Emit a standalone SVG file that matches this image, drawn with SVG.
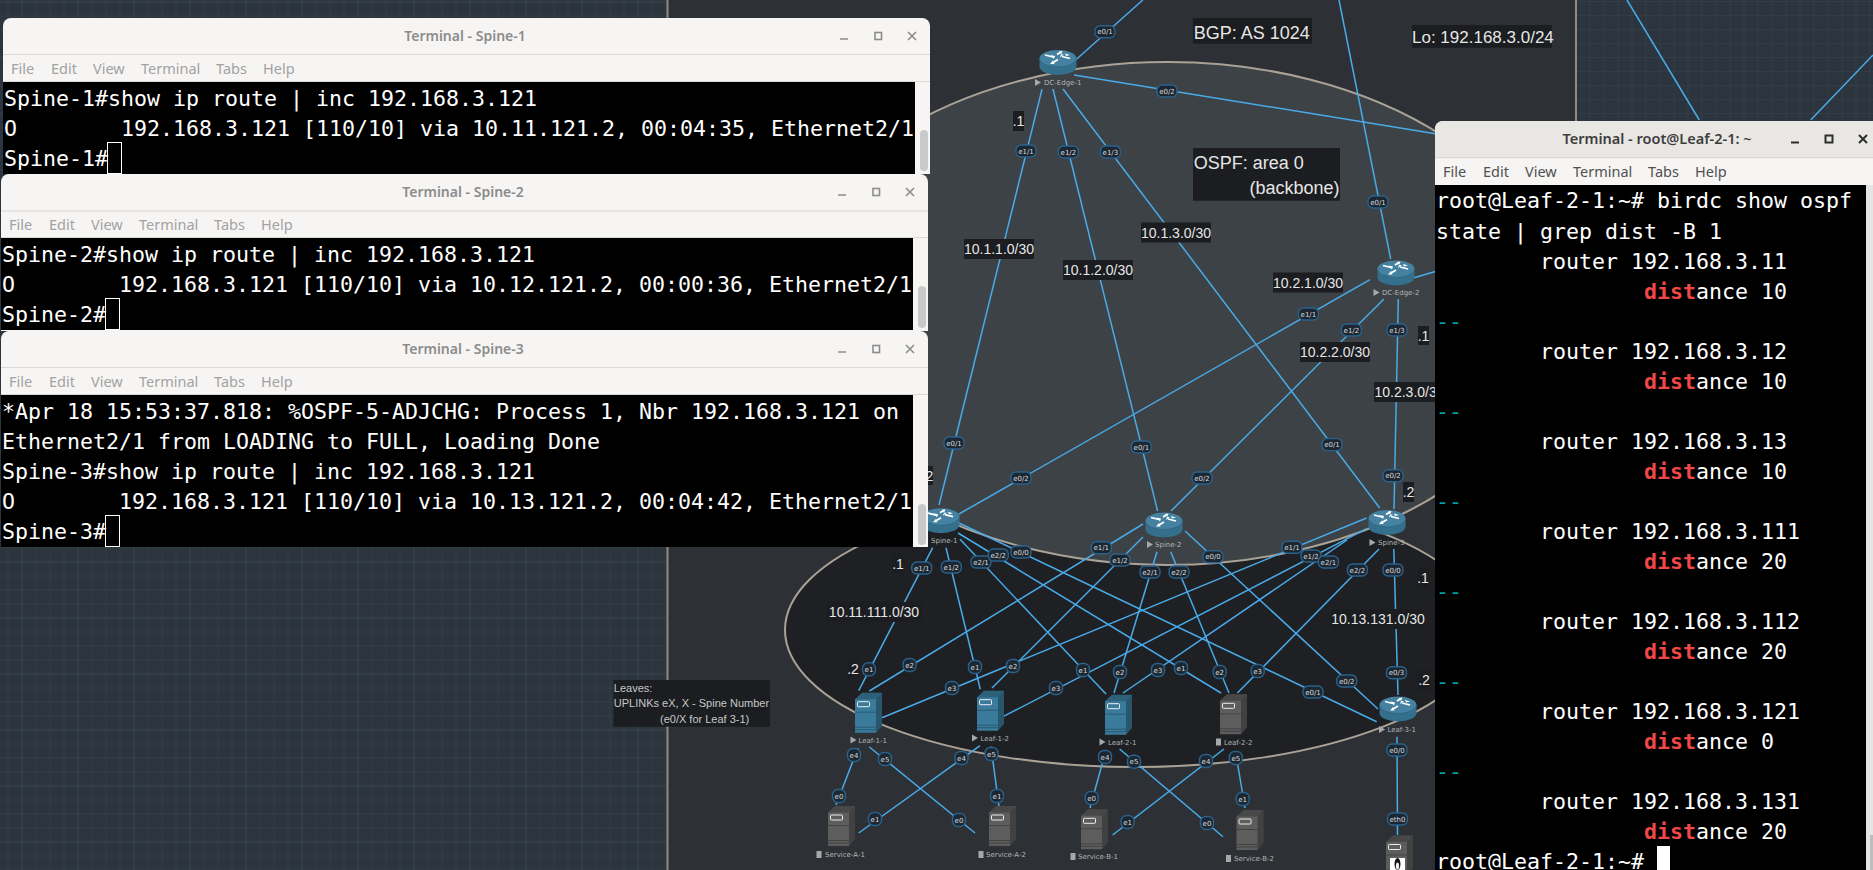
<svg xmlns="http://www.w3.org/2000/svg" width="1873" height="870" viewBox="0 0 1873 870">
<style>
text{font-family:"Liberation Sans",Arial,sans-serif}
.lk line{stroke:#49abea;stroke-width:1.5;fill:none}
.pw,.pn{fill:#1c2732;stroke:#2a628c;stroke-width:1.4}
.pt{font-family:"DejaVu Sans",sans-serif;font-size:7px;fill:#dadada;text-anchor:middle}
.nl{font-family:"DejaVu Sans",sans-serif;font-size:7px;fill:#b4b4b4}
.ic{fill:#a8a8a8}
.box{fill:#1b1d20}
.sn{font-size:14px;fill:#e6e6e6;text-anchor:middle}
.big{font-size:18px;fill:#e6e6e6}
.lo{font-size:17px;fill:#e6e6e6}
.note{font-size:11px;fill:#c8c8c8}
.blue{color:#3a7b9c}
.gray{color:#5d5d5d}
.tb{fill:#f6f5f4}
.sep{fill:#dad8d4}
.black{fill:#000}
.thumb{fill:#c9c9c9}
.tt{font-family:"Noto Sans",sans-serif;font-size:14px;font-weight:600;fill:#8c8c8c;text-anchor:middle}
.tta{font-family:"Noto Sans",sans-serif;font-size:14.5px;font-weight:600;fill:#3d3d3d;text-anchor:middle}
.mi{font-family:"Noto Sans",sans-serif;font-size:14.5px;fill:#a2a2a2}
.ma{font-family:"Noto Sans",sans-serif;font-size:14.5px;fill:#505050}
.t{font-family:"DejaVu Sans Mono",monospace;font-size:21.6px;fill:#fff;white-space:pre}
.red{fill:#f04848;font-weight:bold}
.cy{fill:#00a0a6}
.cur{fill:none;stroke:#fff;stroke-width:1}
.ctl{fill:none;stroke:#8c8c8c;stroke-width:1.6}
.cta{fill:none;stroke:#2e2e2e;stroke-width:2}
</style>
<defs>
<pattern id="gridL" x="7.5" y="1.5" width="14" height="14" patternUnits="userSpaceOnUse"><path d="M0 0H14M0 0V14" fill="none" stroke="#35444e" stroke-width="1"/></pattern>
<pattern id="gridLM" x="21.5" y="1.5" width="56" height="56" patternUnits="userSpaceOnUse"><path d="M0 0H56M0 0V56" fill="none" stroke="#3c4c56" stroke-width="1"/></pattern>
<pattern id="gridR" x="7.5" y="1" width="14" height="14" patternUnits="userSpaceOnUse"><path d="M0 0H14M0 0V14" fill="none" stroke="#35444e" stroke-width="1"/></pattern>
<rect id="pw" class="pw" x="-10" y="-6" width="20" height="12" rx="5"/>
<rect id="pn" class="pn" x="-6.5" y="-6.5" width="13" height="13" rx="5.5"/>
<g id="router">
<path d="M-18.5 -4V4A18.5 8.5 0 0 0 18.5 4V-4Z" fill="#346f8b"/>
<ellipse cx="0" cy="-4" rx="18.5" ry="8.5" fill="#4582a2"/>
<path d="M-18.5 -4A18.5 8.5 0 0 0 18.5 -4" fill="none" stroke="#2c5e78" stroke-width=".6"/>
<path d="M-13 -7.5L-5 -5.5M-1 -8L3 -10.5M4 -6L12 -4M0 -3L-5 0" fill="none" stroke="#fff" stroke-width="1.8"/>
<path d="M-4 -3.5L-3 -6.5L-7.5 -7.5ZM4.5 -11.5L1 -11L3 -8ZM3 -8L6 -8L2 -5ZM-8 1.5L-3.5 1.5L-5 -2ZM7 -9L12 -7.5L8 -6.5Z" fill="#fff"/>
</g>
<g id="srv">
<path d="M0 6.5L7 0H27V33L21 40H0Z" fill="currentColor"/>
<path d="M0 6.5L7 0H27L21 6.5Z" fill="#000" opacity=".22"/>
<path d="M21 6.5L27 0V33L21 40Z" fill="#000" opacity=".3"/>
<path d="M0 19.5H21M0 34.5H21M0 37H21" stroke="#000" stroke-opacity=".35" stroke-width=".8" fill="none"/>
<rect x="2.5" y="9" width="12" height="5" rx=".8" fill="none" stroke="#eee" stroke-width="1"/>
</g>
</defs>

<g id="background">
<rect width="1873" height="870" fill="#2c353d"/>
<rect width="668" height="870" fill="url(#gridL)"/>
<rect width="668" height="870" fill="url(#gridLM)"/>
<rect x="1577" width="296" height="870" fill="url(#gridR)"/>
<rect x="667" width="910" height="870" fill="#2d3034"/>
<path d="M667.5 0V870M1576 0V870" stroke="#8f8b82" stroke-width="2" fill="none"/>
</g>

<g id="areas">
<ellipse id="area-leaves" cx="1135" cy="630" rx="350" ry="137" fill="#1e2023" stroke="#aaa296" stroke-width="2"/>
<ellipse id="area-ospf" cx="1167.5" cy="313.5" rx="389" ry="251.5" fill="#3d4246" stroke="#aaa296" stroke-width="2"/>
</g>

<g id="connectors" class="lk">
<line x1="1075.6" y1="60" x2="1142.8" y2="0"/>
<line x1="1074" y1="75" x2="1437" y2="134"/>
<line x1="1042" y1="89.3" x2="939" y2="505"/>
<line x1="1053" y1="89" x2="1157.6" y2="511"/>
<line x1="1063" y1="89" x2="1379.7" y2="508"/>
<line x1="1339" y1="0" x2="1390.7" y2="259"/>
<line x1="1413" y1="278" x2="1437" y2="271"/>
<line x1="1370" y1="279.6" x2="959" y2="514"/>
<line x1="1384" y1="299" x2="1171" y2="511"/>
<line x1="1398.3" y1="299" x2="1394" y2="509"/>
<line x1="1627" y1="0" x2="1699.3" y2="120"/>
<line x1="1810.7" y1="120" x2="1873" y2="55"/>
<line x1="932.7" y1="547.7" x2="858.7" y2="690.7"/>
<line x1="946" y1="547.7" x2="980.3" y2="689.3"/>
<line x1="960" y1="539.3" x2="1106" y2="694"/>
<line x1="958" y1="533" x2="1221" y2="693"/>
<line x1="959" y1="523" x2="1376.7" y2="721.7"/>
<line x1="1143" y1="524" x2="869.4" y2="691"/>
<line x1="1143" y1="537" x2="992" y2="688"/>
<line x1="1157" y1="551.7" x2="1114" y2="693"/>
<line x1="1170.7" y1="551.7" x2="1229" y2="693"/>
<line x1="1185" y1="531" x2="1378" y2="709"/>
<line x1="1366.6" y1="518" x2="882" y2="717.7"/>
<line x1="1366.6" y1="528.6" x2="1003" y2="716.7"/>
<line x1="1347" y1="540" x2="1123" y2="693"/>
<line x1="1379" y1="549" x2="1237.4" y2="693"/>
<line x1="1393.8" y1="549" x2="1398" y2="695"/>
<line x1="858" y1="748" x2="836" y2="805"/>
<line x1="869.4" y1="747" x2="975" y2="833"/>
<line x1="980" y1="745.7" x2="858.7" y2="833"/>
<line x1="991" y1="746.7" x2="999" y2="806.7"/>
<line x1="1106" y1="750" x2="1090" y2="808"/>
<line x1="1119.6" y1="749" x2="1223" y2="836.7"/>
<line x1="1224" y1="749" x2="1112.6" y2="835"/>
<line x1="1235.8" y1="753" x2="1245" y2="808"/>
<line x1="1397" y1="736.7" x2="1397.5" y2="835"/>

<g id="interface-labels">
<use href="#pw" x="1105" y="31.8"/><text class="pt" x="1105" y="34.3">e0/1</text>
<use href="#pw" x="1167" y="91"/><text class="pt" x="1167" y="93.5">e0/2</text>
<use href="#pw" x="1026" y="151"/><text class="pt" x="1026" y="153.5">e1/1</text>
<use href="#pw" x="954" y="443"/><text class="pt" x="954" y="445.5">e0/1</text>
<use href="#pw" x="1068.4" y="152"/><text class="pt" x="1068.4" y="154.5">e1/2</text>
<use href="#pw" x="1141.4" y="447"/><text class="pt" x="1141.4" y="449.5">e0/1</text>
<use href="#pw" x="1110.4" y="152"/><text class="pt" x="1110.4" y="154.5">e1/3</text>
<use href="#pw" x="1332" y="444.6"/><text class="pt" x="1332" y="447.1">e0/1</text>
<use href="#pw" x="1378" y="202"/><text class="pt" x="1378" y="204.5">e0/1</text>
<use href="#pw" x="1308.4" y="314"/><text class="pt" x="1308.4" y="316.5">e1/1</text>
<use href="#pw" x="1021" y="478"/><text class="pt" x="1021" y="480.5">e0/2</text>
<use href="#pw" x="1351.4" y="330"/><text class="pt" x="1351.4" y="332.5">e1/2</text>
<use href="#pw" x="1202" y="478"/><text class="pt" x="1202" y="480.5">e0/2</text>
<use href="#pw" x="1397" y="330"/><text class="pt" x="1397" y="332.5">e1/3</text>
<use href="#pw" x="1393" y="475.7"/><text class="pt" x="1393" y="478.2">e0/2</text>

<use href="#pw" x="921.7" y="568"/><text class="pt" x="921.7" y="570.5">e1/1</text>
<use href="#pn" x="869" y="669.3"/><text class="pt" x="869" y="671.8">e1</text>
<use href="#pw" x="951.3" y="567"/><text class="pt" x="951.3" y="569.5">e1/2</text>
<use href="#pn" x="975" y="667"/><text class="pt" x="975" y="669.5">e1</text>
<use href="#pw" x="981" y="562"/><text class="pt" x="981" y="564.5">e2/1</text>
<use href="#pn" x="1083" y="670"/><text class="pt" x="1083" y="672.5">e1</text>
<use href="#pw" x="998.3" y="555"/><text class="pt" x="998.3" y="557.5">e2/2</text>
<use href="#pn" x="1181" y="668"/><text class="pt" x="1181" y="670.5">e1</text>
<use href="#pw" x="1021" y="552"/><text class="pt" x="1021" y="554.5">e0/0</text>
<use href="#pw" x="1313" y="692"/><text class="pt" x="1313" y="694.5">e0/1</text>

<use href="#pw" x="1101.3" y="547.7"/><text class="pt" x="1101.3" y="550.2">e1/1</text>
<use href="#pn" x="909.6" y="665"/><text class="pt" x="909.6" y="667.5">e2</text>
<use href="#pw" x="1120" y="560"/><text class="pt" x="1120" y="562.5">e1/2</text>
<use href="#pn" x="1013" y="666"/><text class="pt" x="1013" y="668.5">e2</text>
<use href="#pw" x="1150" y="572"/><text class="pt" x="1150" y="574.5">e2/1</text>
<use href="#pn" x="1120" y="672"/><text class="pt" x="1120" y="674.5">e2</text>
<use href="#pw" x="1179" y="572"/><text class="pt" x="1179" y="574.5">e2/2</text>
<use href="#pn" x="1219.7" y="672"/><text class="pt" x="1219.7" y="674.5">e2</text>
<use href="#pw" x="1213" y="556.7"/><text class="pt" x="1213" y="559.2">e0/0</text>
<use href="#pw" x="1346.7" y="681"/><text class="pt" x="1346.7" y="683.5">e0/2</text>

<use href="#pw" x="1292" y="547.3"/><text class="pt" x="1292" y="549.8">e1/1</text>
<use href="#pn" x="952" y="688"/><text class="pt" x="952" y="690.5">e3</text>
<use href="#pw" x="1311" y="556"/><text class="pt" x="1311" y="558.5">e1/2</text>
<use href="#pn" x="1056" y="688"/><text class="pt" x="1056" y="690.5">e3</text>
<use href="#pw" x="1328.4" y="562"/><text class="pt" x="1328.4" y="564.5">e2/1</text>
<use href="#pn" x="1158" y="670"/><text class="pt" x="1158" y="672.5">e3</text>
<use href="#pw" x="1357.4" y="570"/><text class="pt" x="1357.4" y="572.5">e2/2</text>
<use href="#pn" x="1257.7" y="671"/><text class="pt" x="1257.7" y="673.5">e3</text>
<use href="#pw" x="1393" y="570"/><text class="pt" x="1393" y="572.5">e0/0</text>
<use href="#pw" x="1396.5" y="672.7"/><text class="pt" x="1396.5" y="675.2">e0/3</text>

<use href="#pn" x="854" y="755"/><text class="pt" x="854" y="757.5">e4</text>
<use href="#pn" x="839" y="796"/><text class="pt" x="839" y="798.5">e0</text>
<use href="#pn" x="885" y="759"/><text class="pt" x="885" y="761.5">e5</text>
<use href="#pn" x="959" y="820"/><text class="pt" x="959" y="822.5">e0</text>
<use href="#pn" x="961.5" y="758"/><text class="pt" x="961.5" y="760.5">e4</text>
<use href="#pn" x="875" y="819"/><text class="pt" x="875" y="821.5">e1</text>
<use href="#pn" x="991.5" y="754"/><text class="pt" x="991.5" y="756.5">e5</text>
<use href="#pn" x="997" y="796"/><text class="pt" x="997" y="798.5">e1</text>
<use href="#pn" x="1105" y="757"/><text class="pt" x="1105" y="759.5">e4</text>
<use href="#pn" x="1091.7" y="798"/><text class="pt" x="1091.7" y="800.5">e0</text>
<use href="#pn" x="1134" y="761.7"/><text class="pt" x="1134" y="764.2">e5</text>
<use href="#pn" x="1207" y="823"/><text class="pt" x="1207" y="825.5">e0</text>
<use href="#pn" x="1206" y="761"/><text class="pt" x="1206" y="763.5">e4</text>
<use href="#pn" x="1127.6" y="822"/><text class="pt" x="1127.6" y="824.5">e1</text>
<use href="#pn" x="1235.8" y="758"/><text class="pt" x="1235.8" y="760.5">e5</text>
<use href="#pn" x="1242.7" y="799"/><text class="pt" x="1242.7" y="801.5">e1</text>
<use href="#pw" x="1397" y="750"/><text class="pt" x="1397" y="752.5">e0/0</text>
<use href="#pw" x="1397.5" y="819"/><text class="pt" x="1397.5" y="821.5">eth0</text>
</g>
</g>

<g id="DC-Edge-1"><use href="#router" x="1058" y="62.5"/><polygon class="ic" points="1035,79 1041,82.5 1035,86"/><text class="nl" x="1044" y="85">DC-Edge-1</text></g>
<g id="DC-Edge-2"><use href="#router" x="1396" y="273"/><polygon class="ic" points="1373.5,289 1379.5,292.5 1373.5,296"/><text class="nl" x="1382" y="295">DC-Edge-2</text></g>
<g id="Spine-1"><use href="#router" x="941" y="520.7"/><text class="nl" x="931" y="543">Spine-1</text></g>
<g id="Spine-2"><use href="#router" x="1164" y="525"/><polygon class="ic" points="1147,541 1153,544.5 1147,548"/><text class="nl" x="1155" y="547">Spine-2</text></g>
<g id="Spine-3"><use href="#router" x="1387" y="522.5"/><polygon class="ic" points="1369.5,539 1375.5,542.5 1369.5,546"/><text class="nl" x="1378" y="545">Spine-3</text></g>
<g id="Leaf-1-1" class="blue"><use href="#srv" x="855" y="692.7"/><polygon class="ic" points="850.5,736.5 856.5,740 850.5,743.5"/><text class="nl" x="858.5" y="742.5">Leaf-1-1</text></g>
<g id="Leaf-1-2" class="blue"><use href="#srv" x="977" y="690.7"/><polygon class="ic" points="972,734.5 978,738 972,741.5"/><text class="nl" x="980.5" y="740.5">Leaf-1-2</text></g>
<g id="Leaf-2-1" class="blue"><use href="#srv" x="1105" y="694.7"/><polygon class="ic" points="1099.5,738.5 1105.5,742 1099.5,745.5"/><text class="nl" x="1108" y="744.5">Leaf-2-1</text></g>
<g id="Leaf-2-2" class="gray"><use href="#srv" x="1220" y="694.3"/><rect class="ic" x="1216" y="738.5" width="5" height="7"/><text class="nl" x="1224" y="744.5">Leaf-2-2</text></g>
<g id="Leaf-3-1"><use href="#router" x="1398" y="709"/><polygon class="ic" points="1379,726 1385,729.5 1379,733"/><text class="nl" x="1387.5" y="732">Leaf-3-1</text></g>
<g id="Service-A-1" class="gray"><use href="#srv" x="828" y="806"/><rect class="ic" x="816.5" y="851" width="5" height="7"/><text class="nl" x="825" y="857">Service-A-1</text></g>
<g id="Service-A-2" class="gray"><use href="#srv" x="989" y="806"/><rect class="ic" x="978.5" y="851" width="5" height="7"/><text class="nl" x="986" y="857">Service-A-2</text></g>
<g id="Service-B-1" class="gray"><use href="#srv" x="1081" y="809.3"/><rect class="ic" x="1070.5" y="853" width="5" height="7"/><text class="nl" x="1078" y="859">Service-B-1</text></g>
<g id="Service-B-2" class="gray"><use href="#srv" x="1236.5" y="810"/><rect class="ic" x="1226" y="855" width="5" height="7"/><text class="nl" x="1234" y="861">Service-B-2</text></g>
<g id="Host" class="gray"><use href="#srv" x="1386" y="835.5"/><rect x="1390" y="858" width="15" height="13" fill="#fff"/><ellipse cx="1397.5" cy="864" rx="3" ry="6" fill="#111"/><ellipse cx="1397.5" cy="866" rx="1.6" ry="3.5" fill="#eee"/></g>

<g id="annotations">
<rect class="box" x="1193" y="18" width="119" height="25.6"/><text class="big" x="1193.7" y="38.6">BGP: AS 1024</text>
<rect class="box" x="1412" y="25" width="140" height="22.7"/><text class="lo" x="1412" y="42.7">Lo: 192.168.3.0/24</text>
<rect class="box" x="1193" y="148" width="147" height="52.7"/><text class="big" x="1193.7" y="168.6">OSPF: area 0</text><text class="big" x="1249.5" y="194.3">(backbone)</text>
<rect class="box" x="964" y="239" width="70" height="20"/><text class="sn" x="999" y="254">10.1.1.0/30</text>
<rect class="box" x="1063" y="260" width="70" height="20"/><text class="sn" x="1098" y="275">10.1.2.0/30</text>
<rect class="box" x="1141" y="222.5" width="70" height="20"/><text class="sn" x="1176" y="237.5">10.1.3.0/30</text>
<rect class="box" x="1273" y="272.5" width="70" height="20"/><text class="sn" x="1308" y="287.5">10.2.1.0/30</text>
<rect class="box" x="1300" y="342" width="70" height="20"/><text class="sn" x="1335" y="357">10.2.2.0/30</text>
<rect class="box" x="1374" y="382" width="71" height="20"/><text class="sn" x="1409.5" y="397">10.2.3.0/30</text>
<rect class="box" x="827.5" y="602" width="94" height="20"/><text class="sn" x="874" y="617">10.11.111.0/30</text>
<rect class="box" x="1331" y="609" width="94" height="20"/><text class="sn" x="1378" y="624">10.13.131.0/30</text>
<rect class="box" x="1013" y="111" width="11" height="20"/><text class="sn" x="1018.5" y="126">.1</text>
<rect class="box" x="1418" y="326" width="11" height="19"/><text class="sn" x="1423.5" y="341">.1</text>
<rect class="box" x="1403" y="482" width="11" height="20"/><text class="sn" x="1408.5" y="497">.2</text>
<rect class="box" x="922" y="466" width="11" height="19"/><text class="sn" x="927.5" y="481">.2</text>
<rect class="box" x="892.5" y="554" width="11" height="20"/><text class="sn" x="898" y="569">.1</text>
<rect class="box" x="847.5" y="659" width="11" height="20"/><text class="sn" x="853" y="674">.2</text>
<rect class="box" x="1417.5" y="568" width="11" height="20"/><text class="sn" x="1423" y="583">.1</text>
<rect class="box" x="1418.5" y="670" width="11" height="20"/><text class="sn" x="1424" y="685">.2</text>
<rect class="box" x="613.4" y="680" width="156.6" height="46.7"/>
<text class="note" x="613.8" y="691.7">Leaves:</text>
<text class="note" x="613.8" y="706.7">UPLINKs eX, X - Spine Number</text>
<text class="note" x="660" y="722.7">(e0/X for Leaf 3-1)</text>
</g>

<g id="terminal-spine-1">
<path class="tb" d="M3 174V26a8 8 0 0 1 8-8H922a8 8 0 0 1 8 8V174Z"/>
<rect class="sep" x="3" y="54" width="927" height="1"/>
<rect class="sep" x="3" y="81" width="927" height="1"/>
<rect class="black" x="3" y="82" width="912" height="92"/>
<rect class="thumb" x="920" y="130" width="8" height="41" rx="4"/>
<text class="tt" x="465" y="41">Terminal - Spine-1</text>
<path class="ctl" d="M840 39H848M908 32L916 40M916 32L908 40"/><rect class="ctl" x="875" y="32.5" width="6.5" height="7"/>
<text class="mi" x="11" y="74">File</text><text class="mi" x="51" y="74">Edit</text><text class="mi" x="93" y="74">View</text><text class="mi" x="141" y="74">Terminal</text><text class="mi" x="216" y="74">Tabs</text><text class="mi" x="263" y="74">Help</text>
<text class="t" x="4" y="106">Spine-1#show ip route | inc 192.168.3.121</text>
<text class="t" x="4" y="136">O        192.168.3.121 [110/10] via 10.11.121.2, 00:04:35, Ethernet2/1</text>
<text class="t" x="4" y="166">Spine-1#</text>
<rect class="cur" x="107.5" y="142.5" width="14" height="31"/>
</g>

<g id="terminal-spine-2">
<path class="tb" d="M1 331V182a8 8 0 0 1 8-8H920a8 8 0 0 1 8 8V331Z"/>
<rect class="sep" x="1" y="210.5" width="927" height="1"/>
<rect class="sep" x="1" y="237" width="927" height="1"/>
<rect class="black" x="1" y="238" width="912" height="92"/>
<rect class="thumb" x="918" y="286" width="8" height="42" rx="4"/>
<text class="tt" x="463" y="197">Terminal - Spine-2</text>
<path class="ctl" d="M838 195H846M906 188L914 196M914 188L906 196"/><rect class="ctl" x="873" y="188.5" width="6.5" height="7"/>
<text class="mi" x="9" y="230">File</text><text class="mi" x="49" y="230">Edit</text><text class="mi" x="91" y="230">View</text><text class="mi" x="139" y="230">Terminal</text><text class="mi" x="214" y="230">Tabs</text><text class="mi" x="261" y="230">Help</text>
<text class="t" x="2" y="262">Spine-2#show ip route | inc 192.168.3.121</text>
<text class="t" x="2" y="292">O        192.168.3.121 [110/10] via 10.12.121.2, 00:00:36, Ethernet2/1</text>
<text class="t" x="2" y="322">Spine-2#</text>
<rect class="cur" x="105.5" y="298.5" width="14" height="31"/>
</g>

<g id="terminal-spine-3">
<path class="tb" d="M1 547V339a8 8 0 0 1 8-8H920a8 8 0 0 1 8 8V547Z"/>
<rect class="sep" x="1" y="367" width="927" height="1"/>
<rect class="sep" x="1" y="394" width="927" height="1"/>
<rect class="black" x="1" y="395" width="912" height="152"/>
<rect class="thumb" x="918" y="504" width="8" height="41" rx="4"/>
<text class="tt" x="463" y="354">Terminal - Spine-3</text>
<path class="ctl" d="M838 352H846M906 345L914 353M914 345L906 353"/><rect class="ctl" x="873" y="345.5" width="6.5" height="7"/>
<text class="mi" x="9" y="387">File</text><text class="mi" x="49" y="387">Edit</text><text class="mi" x="91" y="387">View</text><text class="mi" x="139" y="387">Terminal</text><text class="mi" x="214" y="387">Tabs</text><text class="mi" x="261" y="387">Help</text>
<text class="t" x="2" y="419">*Apr 18 15:53:37.818: %OSPF-5-ADJCHG: Process 1, Nbr 192.168.3.121 on</text>
<text class="t" x="2" y="449">Ethernet2/1 from LOADING to FULL, Loading Done</text>
<text class="t" x="2" y="479">Spine-3#show ip route | inc 192.168.3.121</text>
<text class="t" x="2" y="509">O        192.168.3.121 [110/10] via 10.13.121.2, 00:04:42, Ethernet2/1</text>
<text class="t" x="2" y="539">Spine-3#</text>
<rect class="cur" x="105.5" y="515.5" width="14" height="31"/>
</g>

<g id="terminal-leaf-2-1">
<path class="tb" d="M1435 870V129a8 8 0 0 1 8-8H1873V870Z"/>
<path d="M1435 157V129a8 8 0 0 1 8-8H1873V157Z" fill="#e9e7e4"/>
<rect class="sep" x="1435" y="157" width="438" height="1.2"/>
<rect class="black" x="1435" y="185" width="431" height="685"/>
<rect x="1866" y="185" width="7" height="685" fill="#e4e4e2"/>
<rect x="1870" y="835" width="3" height="35" fill="#bdbdbd"/>
<text class="tta" x="1657" y="144">Terminal - root@Leaf-2-1: ~</text>
<path class="cta" d="M1791 142.5H1799M1859 135L1867 143M1867 135L1859 143"/><rect class="cta" x="1825.5" y="135.5" width="7" height="7"/>
<text class="ma" x="1443" y="177">File</text><text class="ma" x="1483" y="177">Edit</text><text class="ma" x="1525" y="177">View</text><text class="ma" x="1573" y="177">Terminal</text><text class="ma" x="1648" y="177">Tabs</text><text class="ma" x="1695" y="177">Help</text>
<text class="t" x="1436" y="208">root@Leaf-2-1:~# birdc show ospf</text>
<text class="t" x="1436" y="239">state | grep dist -B 1</text>
<text class="t" x="1540" y="269">router 192.168.3.11</text>
<text class="t" x="1644" y="299"><tspan class="red">dist</tspan>ance 10</text>
<text class="t cy" x="1436" y="329">--</text>
<text class="t" x="1540" y="359">router 192.168.3.12</text>
<text class="t" x="1644" y="389"><tspan class="red">dist</tspan>ance 10</text>
<text class="t cy" x="1436" y="419">--</text>
<text class="t" x="1540" y="449">router 192.168.3.13</text>
<text class="t" x="1644" y="479"><tspan class="red">dist</tspan>ance 10</text>
<text class="t cy" x="1436" y="509">--</text>
<text class="t" x="1540" y="539">router 192.168.3.111</text>
<text class="t" x="1644" y="569"><tspan class="red">dist</tspan>ance 20</text>
<text class="t cy" x="1436" y="599">--</text>
<text class="t" x="1540" y="629">router 192.168.3.112</text>
<text class="t" x="1644" y="659"><tspan class="red">dist</tspan>ance 20</text>
<text class="t cy" x="1436" y="689">--</text>
<text class="t" x="1540" y="719">router 192.168.3.121</text>
<text class="t" x="1644" y="749"><tspan class="red">dist</tspan>ance 0</text>
<text class="t cy" x="1436" y="779">--</text>
<text class="t" x="1540" y="809">router 192.168.3.131</text>
<text class="t" x="1644" y="839"><tspan class="red">dist</tspan>ance 20</text>
<text class="t" x="1436" y="869">root@Leaf-2-1:~#</text>
<rect x="1657" y="846" width="13" height="24" fill="#fff"/>
</g>
</svg>
